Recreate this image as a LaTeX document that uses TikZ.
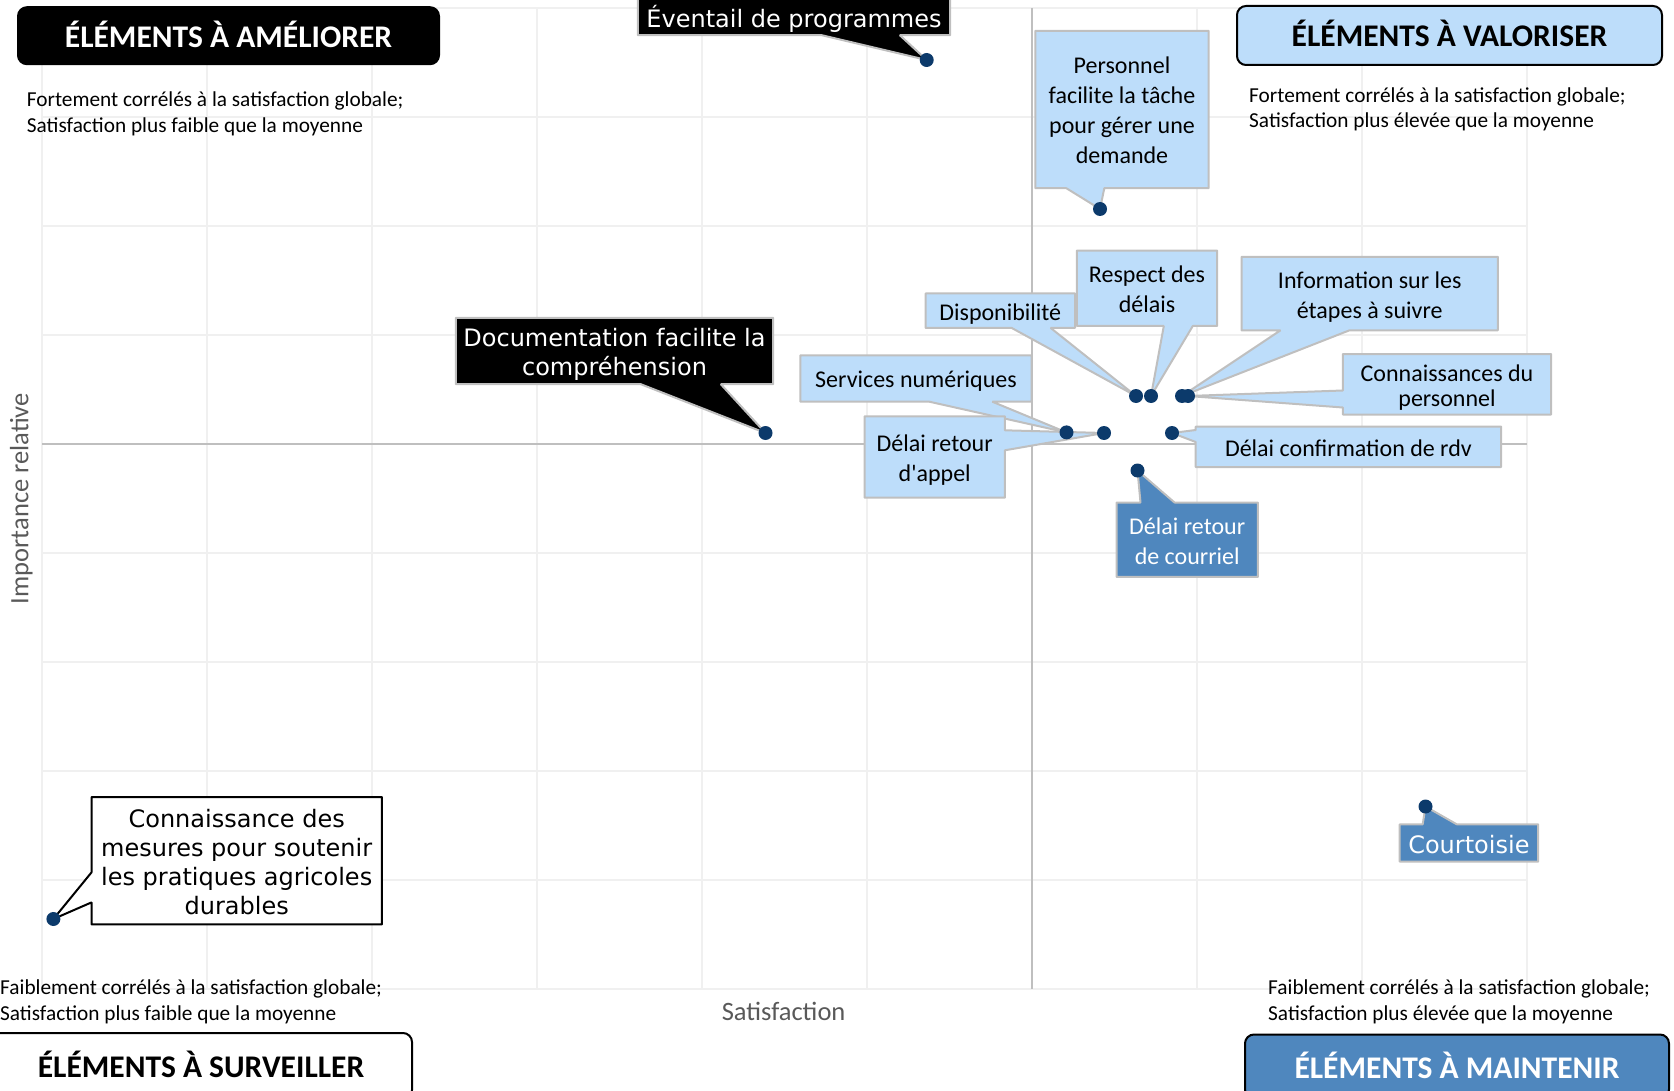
\documentclass[tikz,border=0pt]{standalone}
\usepackage{fontspec}
\setmainfont{Carlito}
\newfontfamily\carlplain{Carlito}[Ligatures=TeXOff]
\newfontfamily\verd{DejaVu Sans}

\definecolor{paleblue}{RGB}{189,221,250}
\definecolor{midblue}{RGB}{79,135,190}
\definecolor{navy}{RGB}{12,58,107}
\definecolor{gridgray}{RGB}{240,240,240}
\definecolor{axisgray}{RGB}{191,191,191}
\definecolor{labelgray}{RGB}{89,89,89}

\pgfdeclarelayer{grid}
\pgfdeclarelayer{bubbles}
\pgfsetlayers{grid,bubbles,main}

% callout outline with a wedge: style, box, base offsets, target dot
\newcommand{\tipS}[5]{\path[#1] (#2.north west) -- (#2.north east) -- (#2.south east) -- ([xshift=#4]#2.south west) -- (#5.center) -- ([xshift=#3]#2.south west) -- (#2.south west) -- cycle;}
\newcommand{\tipN}[5]{\path[#1] (#2.south west) -- (#2.north west) -- ([xshift=#3]#2.north west) -- (#5.center) -- ([xshift=#4]#2.north west) -- (#2.north east) -- (#2.south east) -- cycle;}
\newcommand{\tipW}[5]{\path[#1] (#2.north west) -- (#2.north east) -- (#2.south east) -- (#2.south west) -- ([yshift=#3]#2.south west) -- (#5.center) -- ([yshift=#4]#2.south west) -- cycle;}
\newcommand{\tipE}[5]{\path[#1] (#2.north west) -- (#2.north east) -- ([yshift=-#3]#2.north east) -- (#5.center) -- ([yshift=-#4]#2.north east) -- (#2.south east) -- (#2.south west) -- cycle;}

\begin{document}
\begin{tikzpicture}[x=1pt, y=-1pt,
        gridline/.style = {draw=gridgray, line width=2pt},
        axisline/.style = {draw=axisgray, line width=1.5pt},
        dot/.style = {circle, fill=navy, inner sep=0pt, minimum size=14pt},
        lbl/.style = {inner sep=0pt, align=center, text height=19pt, text depth=0pt, font=\fontsize{24}{30}\selectfont},
        vlbl/.style = {inner sep=0pt, align=center, text height=21pt, text depth=0pt, font=\verd\fontsize{24}{29}\selectfont},
        palebub/.style = {fill=paleblue, draw=axisgray, line width=2pt, line join=bevel},
        darkbub/.style = {fill=black, draw=axisgray, line width=2pt, line join=bevel},
        bluebub/.style = {fill=midblue, draw=axisgray, line width=2pt, line join=bevel},
        whitebub/.style = {fill=white, draw=black, line width=2pt, line join=bevel},
        head/.style = {rounded corners=9pt, draw=black, line width=2pt, inner sep=0pt, text height=23pt, text depth=0pt, font=\bfseries\fontsize{31.5}{36}\selectfont},
        quad/.style = {anchor=west, inner sep=0pt, align=left, font=\fontsize{21.3}{25.6}\selectfont}
    ]
        \useasboundingbox (0,0) rectangle (1674,1091);

        \begin{pgfonlayer}{grid}
        \foreach \i in {0,...,9} {
            \draw[gridline] ({42+165*\i},8) -- ({42+165*\i},989);
            \draw[gridline] (42,{8+109*\i}) -- (1527,{8+109*\i});
        }
        \draw[axisline] (1032,8) -- (1032,989);
        \draw[axisline] (42,444) -- (1527,444);
        \end{pgfonlayer}

        % quadrant headers
        \node[head, fill=black, text=white, minimum width=421pt, minimum height=57pt] (amel) at (228.5,35.7) {ÉLÉMENTS À AMÉLIORER};
        \node[head, fill=paleblue, minimum width=425pt, minimum height=59pt] (valo) at (1449.5,35.5) {ÉLÉMENTS À VALORISER};
        \node[head, fill=white, minimum width=422pt, minimum height=66pt] (surv) at (201,1066) {ÉLÉMENTS À SURVEILLER};
        \node[head, fill=midblue, text=white, minimum width=424pt, minimum height=64pt] (maint) at (1457,1066.5) {ÉLÉMENTS À MAINTENIR};

        \node[quad] (q1) at (26.7,114) {Fortement corrélés à la satisfaction globale;\\Satisfaction plus faible que la moyenne};
        \node[quad] (q2) at (1249,109.5) {Fortement corrélés à la satisfaction globale;\\Satisfaction plus élevée que la moyenne};
        \node[quad] (q3) at (0,1002) {Faiblement corrélés à la satisfaction globale;\\Satisfaction plus faible que la moyenne};
        \node[quad] (q4) at (1268,1002) {Faiblement corrélés à la satisfaction globale;\\Satisfaction plus élevée que la moyenne};

        \node[text=labelgray, font=\fontsize{26.5}{30}\selectfont] (xlab) at (783.6,1011) {Satisfaction};
        \node[text=labelgray, font=\fontsize{26.5}{30}\selectfont, rotate=90] (ylab) at (21.4,498.6) {Importance relative};

        % data points
        \node[dot] (d-evt) at (926.7,60) {};
        \node[dot] (d-perso) at (1100,209) {};
        \node[dot] (d-dispo) at (1136,396) {};
        \node[dot] (d-resp) at (1151,396) {};
        \node[dot] (d-info) at (1182,396) {};
        \node[dot] (d-conn) at (1188,396) {};
        \node[dot] (d-serv) at (1066.5,432.4) {};
        \node[dot] (d-appel) at (1104,433) {};
        \node[dot] (d-conf) at (1172,433) {};
        \node[dot] (d-cour) at (1137.5,470.5) {};
        \node[dot] (d-doc) at (765.5,433) {};
        \node[dot] (d-court) at (1425.5,806.5) {};
        \node[dot] (d-mes) at (53.4,919) {};

        % labels
        \node[vlbl, text=white, text height=23pt, minimum width=312pt, minimum height=37pt] (evt) at (794,16.5) {Éventail de programmes};
        \node[vlbl, text=white, text height=50pt, minimum width=317pt, minimum height=66pt] (doc) at (614.5,351) {Documentation facilite la\\compréhension};
        \node[lbl, text height=109pt, minimum width=173pt, minimum height=157pt] (perso) at (1122,109.5) {Personnel\\facilite la tâche\\pour gérer une\\demande};
        \node[lbl, minimum width=149pt, minimum height=34pt] (dispo) at (1000.3,310.7) {Disponibilité};
        \node[lbl, text height=49pt, minimum width=140pt, minimum height=75pt] (resp) at (1147,288.3) {Respect des\\délais};
        \node[lbl, text height=49pt, minimum width=256pt, minimum height=73pt] (info) at (1369.7,293.6) {Information sur les\\étapes à suivre};
        \node[lbl, font=\fontsize{24}{25.6}\selectfont, text height=44.6pt, minimum width=208pt, minimum height=60pt] (conn) at (1447,384.3) {Connaissances du\\personnel};
        \node[lbl, minimum width=231pt, minimum height=46pt] (serv) at (916,378.5) {Services numériques};
        \node[lbl, text height=49pt, minimum width=140pt, minimum height=81pt] (appel) at (934.7,457) {Délai retour\\{\carlplain d'appel}};
        \node[lbl, minimum width=305pt, minimum height=40pt] (conf) at (1348.4,446.8) {Délai confirmation de rdv};
        \node[lbl, text=white, text height=49pt, minimum width=141pt, minimum height=74pt] (cour) at (1187.2,539.7) {Délai retour\\de courriel};
        \node[vlbl, text=white, minimum width=138pt, minimum height=37pt] (court) at (1468.9,843) {Courtoisie};
        \node[vlbl, text height=108pt, minimum width=290pt, minimum height=127pt] (mes) at (236.7,860.7) {Connaissance des\\mesures pour soutenir\\les pratiques agricoles\\durables};

        \begin{pgfonlayer}{bubbles}
        \tipS{darkbub}{evt}{184pt}{262pt}{d-evt}
        \tipS{darkbub}{doc}{185pt}{265pt}{d-doc}
        \tipS{palebub}{perso}{31pt}{69pt}{d-perso}
        \tipS{palebub}{dispo}{86pt}{125pt}{d-dispo}
        \tipS{palebub}{resp}{87pt}{116pt}{d-resp}
        \tipS{palebub}{info}{39pt}{108pt}{d-info}
        \tipW{palebub}{conn}{7pt}{24pt}{d-conn}
        \tipS{palebub}{serv}{129pt}{192pt}{d-serv}
        \tipE{palebub}{appel}{14pt}{34pt}{d-appel}
        \tipW{palebub}{conf}{25pt}{37pt}{d-conf}
        \tipN{bluebub}{cour}{24pt}{58pt}{d-cour}
        \tipN{bluebub}{court}{23pt}{57pt}{d-court}
        \tipW{whitebub}{mes}{22pt}{52pt}{d-mes}
        \end{pgfonlayer}
    \end{tikzpicture}
\end{document}
